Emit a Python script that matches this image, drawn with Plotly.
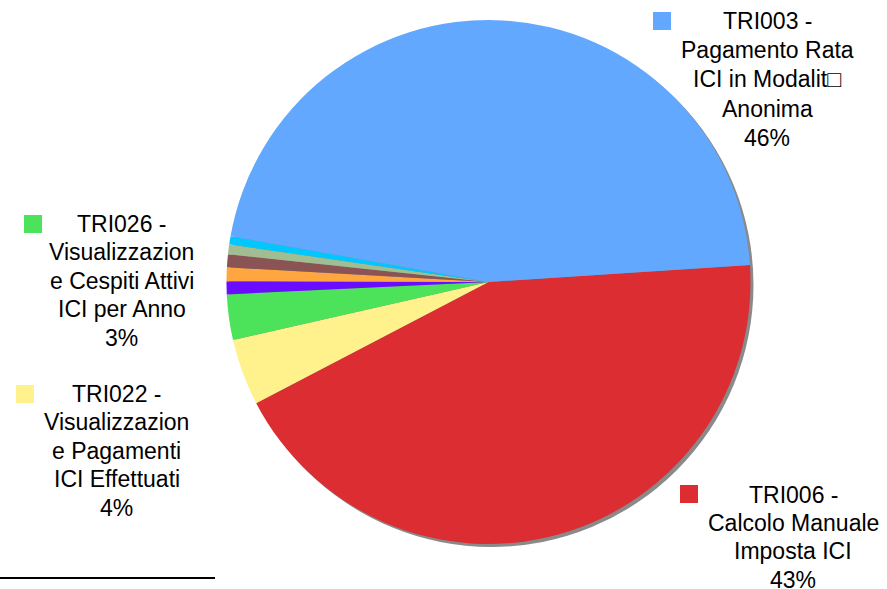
import plotly.graph_objects as go

# Data (percent shares), in clockwise order from the blue/red boundary
labels = [
    "TRI006 - Calcolo Manuale Imposta ICI",
    "TRI022 - Visualizzazione Pagamenti ICI Effettuati",
    "TRI026 - Visualizzazione Cespiti Attivi ICI per Anno",
    "Altro 1",
    "Altro 2",
    "Altro 3",
    "Altro 4",
    "Altro 5",
    "TRI003 - Pagamento Rata ICI in Modalit\u25a1 Anonima",
]
values = [43.4, 4.1, 2.8, 0.8, 0.85, 0.8, 0.6, 0.5, 46.2]
colors = ["#DC2D32", "#FFF28C", "#4CE35A", "#6A0DFF", "#FFA640",
          "#8B5454", "#A0BE91", "#00C8FF", "#62A8FF"]

# Outside label text lines
label_lines = {
    "TRI003": ["TRI003 -", "Pagamento Rata", "ICI in Modalit\u25a1", "Anonima", "46%"],
    "TRI006": ["TRI006 -", "Calcolo Manuale", "Imposta ICI", "43%"],
    "TRI022": ["TRI022 -", "Visualizzazion", "e Pagamenti", "ICI Effettuati", "4%"],
    "TRI026": ["TRI026 -", "Visualizzazion", "e Cespiti Attivi", "ICI per Anno", "3%"],
}
label_colors = {"TRI003": colors[8], "TRI006": colors[0], "TRI022": colors[1], "TRI026": colors[2]}

W, H = 887, 589
cx, cy, r = 488.5, 282.0, 262.0

def px(x):
    return x / W

def py(y):
    return 1 - y / H

fig = go.Figure()
fig.add_trace(go.Pie(
    labels=labels, values=values, sort=False, direction="clockwise",
    rotation=86.3, textinfo="none", hoverinfo="label+percent",
    marker=dict(colors=colors, line=dict(width=0)),
    domain=dict(x=[px(cx - r), px(cx + r)], y=[py(cy + r), py(cy - r)]),
    showlegend=False,
))

shapes = []
# shadow behind pie
shapes.append(dict(type="circle", xref="paper", yref="paper", layer="below",
                   x0=px(cx - r + 3), x1=px(cx + r + 3), y0=py(cy + r + 3), y1=py(cy - r + 3),
                   fillcolor="#8A8A8A", line=dict(width=0)))
# black line bottom left
shapes.append(dict(type="line", xref="paper", yref="paper", x0=0, x1=px(215),
                   y0=py(578), y1=py(578), line=dict(color="black", width=2)))

# label layout: (text center x, first line y, line step, square x0, square y0)
pos = {
    "TRI003": (767, 21, 29.2, 653, 12),
    "TRI006": (793, 495, 28.2, 680, 485),
    "TRI022": (117, 394, 28.4, 16, 385),
    "TRI026": (122, 224, 28.4, 24, 215),
}
annotations = []
for key, (tx, ty, step, sx, sy) in pos.items():
    shapes.append(dict(type="rect", xref="paper", yref="paper",
                       x0=px(sx), x1=px(sx + 18), y0=py(sy + 18), y1=py(sy),
                       fillcolor=label_colors[key], line=dict(width=0)))
    for i, line in enumerate(label_lines[key]):
        annotations.append(dict(text=line, x=px(tx), y=py(ty + i * step), xref="paper", yref="paper",
                                xanchor="center", yanchor="middle", showarrow=False, align="center",
                                font=dict(family="Liberation Sans, Arial", size=23, color="black")))

fig.update_layout(width=W, height=H, margin=dict(l=0, r=0, t=0, b=0),
                  paper_bgcolor="white", plot_bgcolor="white",
                  shapes=shapes, annotations=annotations)
fig.write_html("out.html", config={"displayModeBar": False},
               post_script="document.body.style.margin='0';document.body.style.overflow='hidden';")
